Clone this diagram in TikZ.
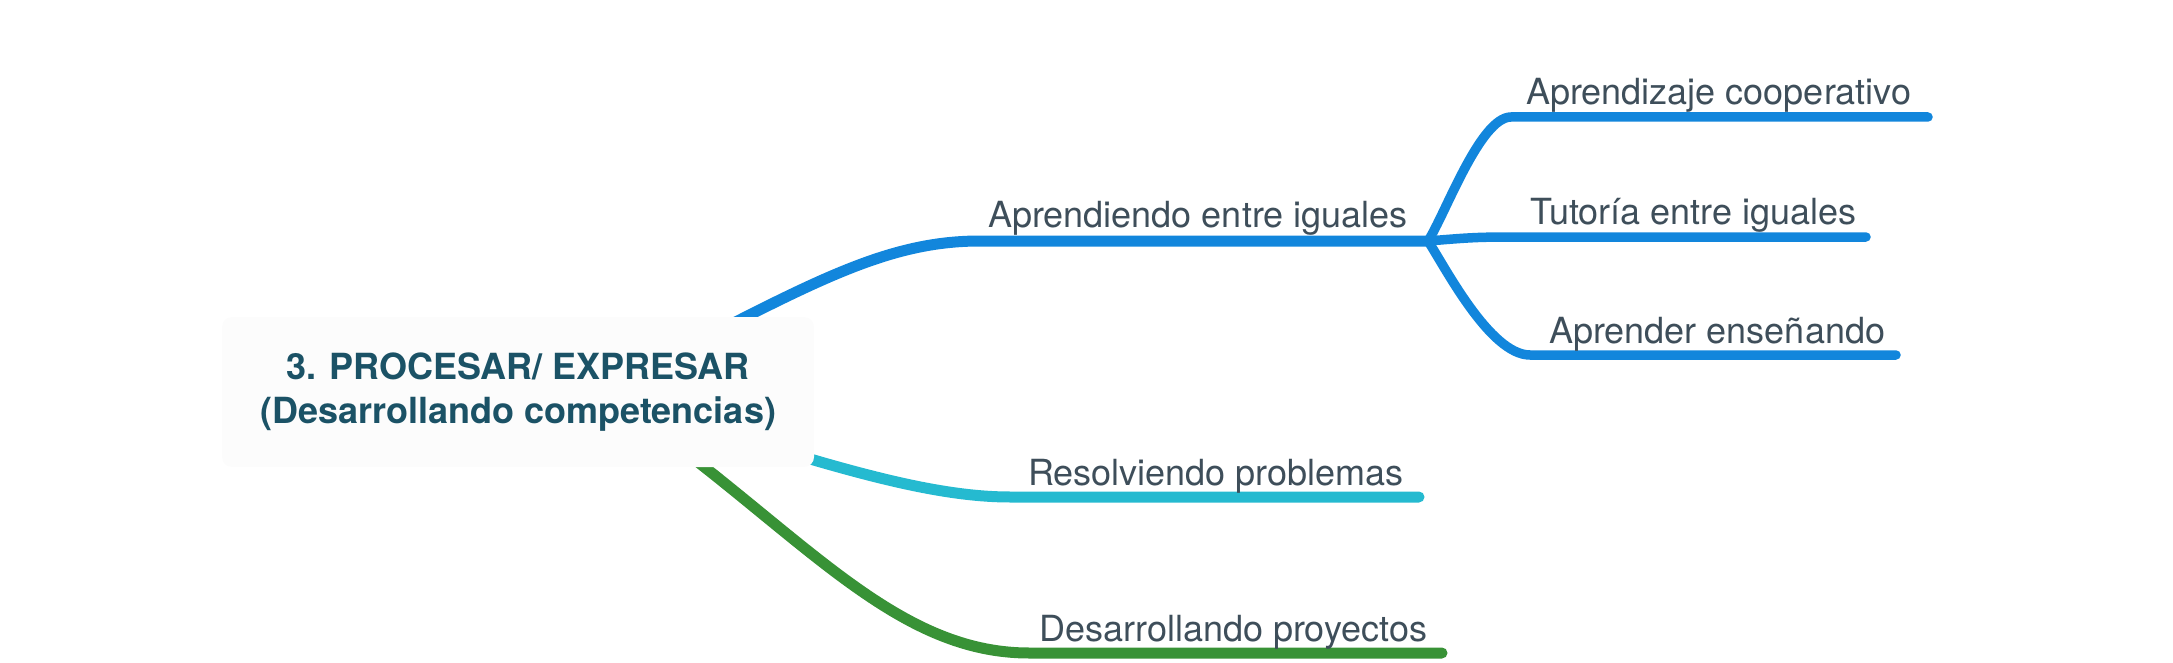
\documentclass[tikz,border=0pt]{standalone}
\usepackage{fontspec}
\setmainfont{TeX Gyre Heros}
\definecolor{cblue}{HTML}{1286DC}
\definecolor{ccyan}{HTML}{25BAD0}
\definecolor{cgreen}{HTML}{389236}
\definecolor{labtxt}{HTML}{3E4E5A}
\definecolor{roottxt}{HTML}{1B5266}
\definecolor{rootfill}{HTML}{FCFCFC}
\begin{document}
\begin{tikzpicture}[x=1pt,y=-1pt,
  lab/.style={text=labtxt, font=\fontsize{36}{43}\selectfont, inner sep=0pt, anchor=base west},
  mainline/.style={line width=11pt, line cap=round},
  subline/.style={line width=9.5pt, line cap=round, draw=cblue},
  rootbox/.style={fill=rootfill, rounded corners=10pt, minimum width=592pt, minimum height=150pt,
    inner sep=0pt, text=roottxt, font=\bfseries\fontsize{36}{44}\selectfont, align=center}]
\useasboundingbox (0,0) rectangle (2173,663);
% coordinates
\coordinate (b1s) at (720,330);
\coordinate (b1h) at (980,241);
\coordinate (j1) at (1428,241);
\coordinate (s1h) at (1511,117);
\coordinate (s1e) at (1928,117);
\coordinate (s2h) at (1511,237);
\coordinate (s2e) at (1866,237);
\coordinate (s3h) at (1530,355);
\coordinate (s3e) at (1896,355);
\coordinate (b2s) at (790,453);
\coordinate (b2h) at (1010,497);
\coordinate (b2e) at (1419,497);
\coordinate (b3s) at (689,455);
\coordinate (b3h) at (1029,653);
\coordinate (b3e) at (1442,653);
% connectors
\draw[mainline, draw=cblue] (b1s) .. controls (835,271) and (900,241) .. (b1h) -- (j1);
\draw[subline] (j1) .. controls (1445,215) and (1480,117) .. (s1h) -- (s1e);
\draw[subline] (j1) .. controls (1465,238) and (1475,237) .. (s2h) -- (s2e);
\draw[subline] (j1) .. controls (1445,267) and (1490,355) .. (s3h) -- (s3e);
\draw[mainline, draw=ccyan] (b2s) .. controls (880,480) and (950,497) .. (b2h) -- (b2e);
\draw[mainline, draw=cgreen] (b3s) .. controls (823,559) and (909,653) .. (b3h) -- (b3e);
% root
\node[rootbox] (root) at (518,392) {3. PROCESAR/ EXPRESAR\\(Desarrollando competencias)};
% labels
\node[lab] (lb1) at (988,228) {Aprendiendo entre iguales};
\node[lab] (ls1) at (1526,105) {Aprendizaje cooperativo};
\node[lab] (ls2) at (1530,225) {Tutoría entre iguales};
\node[lab] (ls3) at (1549,343) {Aprender enseñando};
\node[lab] (lb2) at (1028,485) {Resolviendo problemas};
\node[lab] (lb3) at (1039,641) {Desarrollando proyectos};
\end{tikzpicture}
\end{document}
